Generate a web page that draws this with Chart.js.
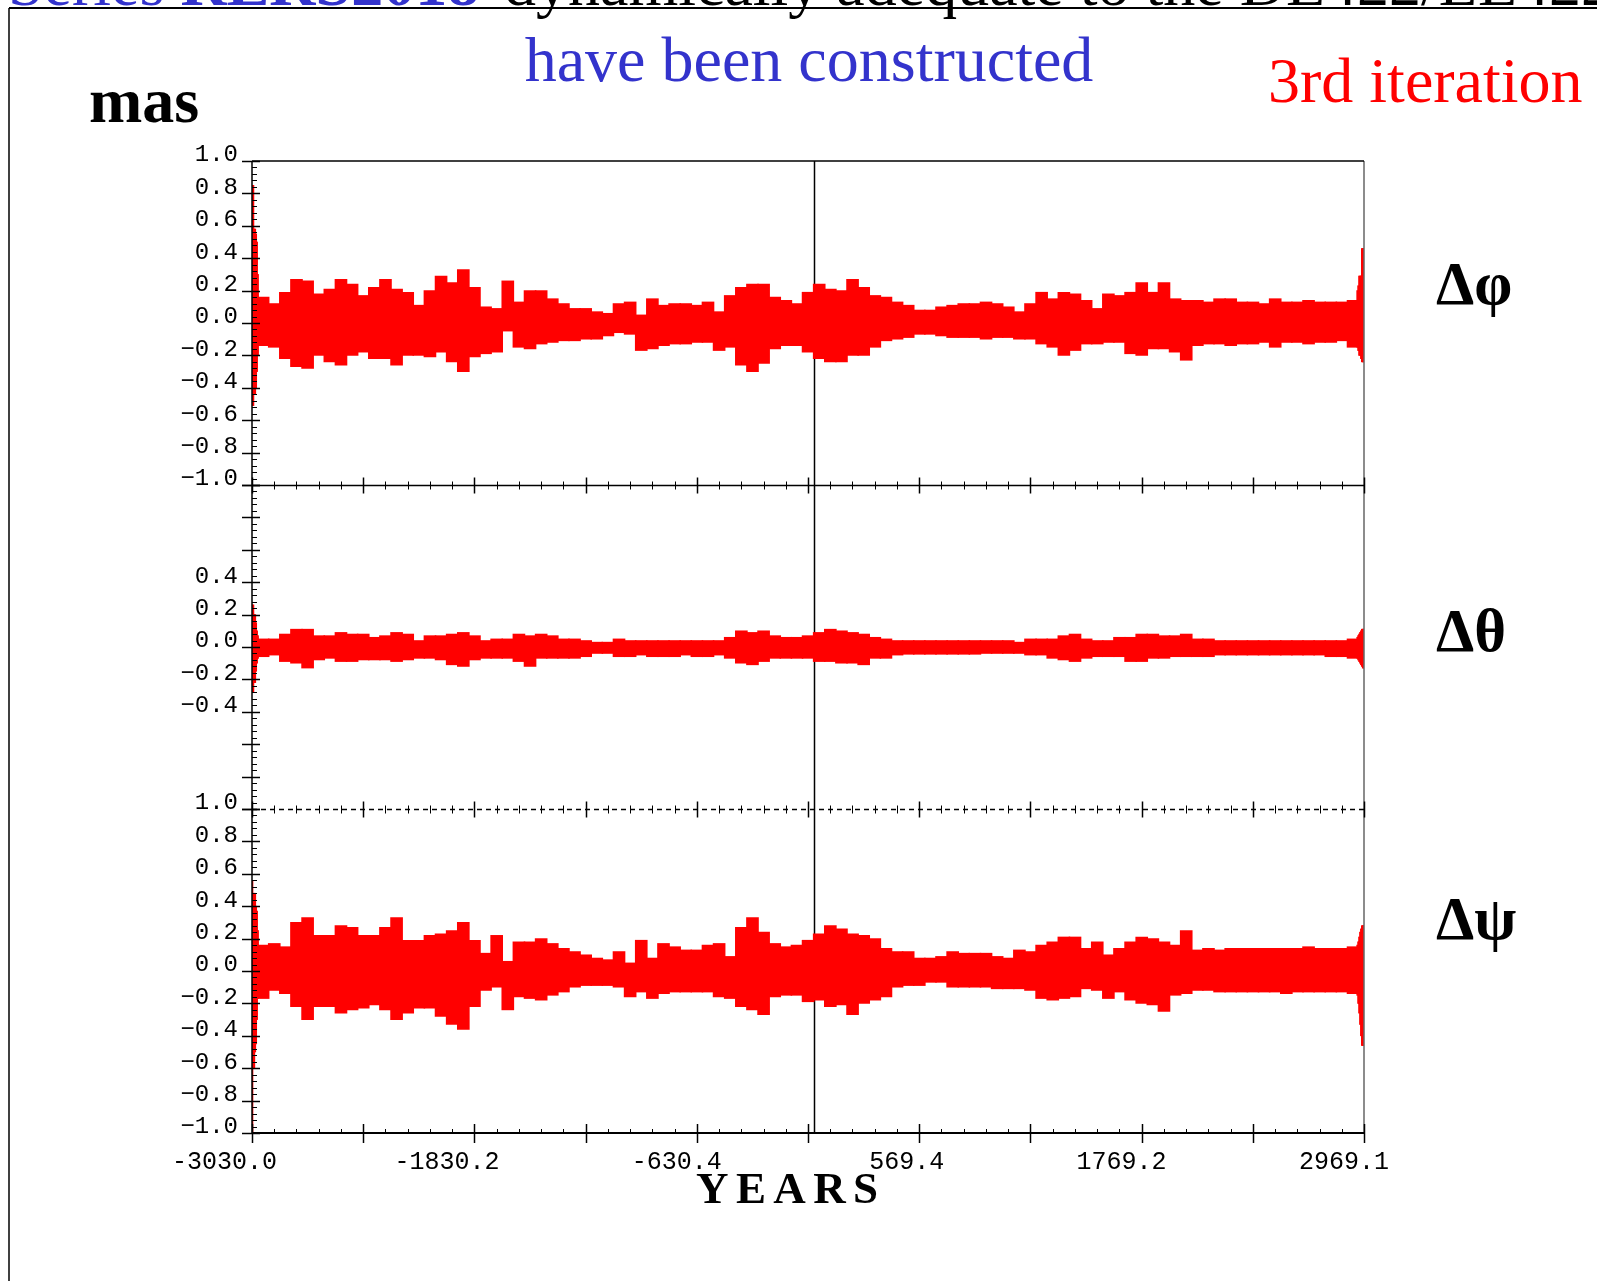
<!DOCTYPE html>
<html>
<head>
<meta charset="utf-8">
<script src="https://cdn.jsdelivr.net/npm/chart.js@4.4.0/dist/chart.umd.min.js"></script>
<style>
  html, body { margin: 0; padding: 0; background: #fff; }
  #wrap { position: relative; width: 1597px; height: 1281px; overflow: hidden; }
  #c, #labels { position: absolute; left: 0; top: 0; }
</style>
</head>
<body>
<div id="wrap">
  <canvas id="c" width="1597" height="1281"></canvas>
  <svg id="labels" width="1597" height="1281" xmlns="http://www.w3.org/2000/svg" font-family="Liberation Serif, Times New Roman, serif">
    <text y="5" font-size="64"><tspan x="8" fill="#3333cc">Series </tspan><tspan fill="#3333cc" font-weight="bold">RERS2018</tspan><tspan x="504" fill="#000">dynamically adequate to the DE422/LE422</tspan></text>
    <line x1="9" y1="8" x2="1597" y2="8" stroke="#000" stroke-width="2"/>
    <line x1="9" y1="8" x2="9" y2="1281" stroke="#000" stroke-width="1.5"/>
    <text x="809" y="81" font-size="64" fill="#3333cc" text-anchor="middle">have been constructed</text>
    <text x="1268" y="102" font-size="64" fill="#ff0000">3rd iteration</text>
    <text x="89" y="122" font-size="64" font-weight="bold" fill="#000">mas</text>
    <text x="1436" y="304" font-size="61" font-weight="bold" fill="#000">Δφ</text>
    <text x="1436" y="651" font-size="61" font-weight="bold" fill="#000">Δθ</text>
    <text x="1436" y="939" font-size="61" font-weight="bold" fill="#000">Δψ</text>
    <text x="696" y="1203" font-size="45" font-weight="bold" fill="#000" letter-spacing="7.4">YEARS</text>
  </svg>
</div>
<script>
// sample epochs (years), one band sample every 60 years
const YEARS = [-3030, -2970, -2910, -2850, -2790, -2730, -2670, -2610, -2550, -2490,
  -2430, -2370, -2310, -2250, -2190, -2130, -2070, -2010, -1950, -1890,
  -1830, -1770, -1710, -1650, -1590, -1530, -1470, -1410, -1350, -1290,
  -1230, -1170, -1110, -1050, -990, -930, -870, -810, -750, -690,
  -630, -570, -510, -450, -390, -330, -270, -210, -150, -90,
  -30, 30, 90, 150, 210, 270, 330, 390, 450, 510,
  570, 630, 690, 750, 810, 870, 930, 990, 1050, 1110,
  1170, 1230, 1290, 1350, 1410, 1470, 1530, 1590, 1650, 1710,
  1770, 1830, 1890, 1950, 2010, 2070, 2130, 2190, 2250, 2310,
  2370, 2430, 2490, 2550, 2610, 2670, 2730, 2790, 2850, 2910,
  2970];

// upper / lower envelope of the residuals (mas)
const PHI_HI = [0.19, 0.16, 0.12, 0.19, 0.27, 0.26, 0.18, 0.21, 0.27, 0.24,
  0.17, 0.22, 0.27, 0.21, 0.19, 0.11, 0.20, 0.29, 0.25, 0.33,
  0.22, 0.10, 0.09, 0.26, 0.13, 0.20, 0.20, 0.15, 0.12, 0.09,
  0.09, 0.07, 0.06, 0.12, 0.13, 0.05, 0.15, 0.11, 0.12, 0.12,
  0.11, 0.13, 0.07, 0.17, 0.22, 0.24, 0.24, 0.16, 0.14, 0.12,
  0.19, 0.24, 0.21, 0.20, 0.27, 0.22, 0.17, 0.16, 0.13, 0.11,
  0.08, 0.08, 0.10, 0.11, 0.12, 0.12, 0.13, 0.12, 0.10, 0.07,
  0.12, 0.19, 0.15, 0.19, 0.18, 0.14, 0.09, 0.18, 0.17, 0.19,
  0.25, 0.19, 0.25, 0.15, 0.14, 0.14, 0.13, 0.15, 0.15, 0.13,
  0.13, 0.12, 0.15, 0.13, 0.13, 0.14, 0.13, 0.13, 0.13, 0.14,
  0.20];
const PHI_LO = [-0.18, -0.14, -0.15, -0.22, -0.27, -0.28, -0.20, -0.24, -0.26, -0.20,
  -0.18, -0.22, -0.22, -0.26, -0.20, -0.20, -0.21, -0.18, -0.24, -0.30,
  -0.21, -0.19, -0.18, -0.05, -0.15, -0.16, -0.13, -0.12, -0.11, -0.11,
  -0.10, -0.10, -0.08, -0.06, -0.07, -0.17, -0.16, -0.14, -0.13, -0.13,
  -0.12, -0.12, -0.17, -0.15, -0.26, -0.30, -0.25, -0.16, -0.14, -0.14,
  -0.18, -0.22, -0.24, -0.24, -0.20, -0.20, -0.15, -0.11, -0.10, -0.09,
  -0.07, -0.07, -0.08, -0.09, -0.09, -0.09, -0.10, -0.09, -0.09, -0.10,
  -0.10, -0.13, -0.15, -0.20, -0.17, -0.13, -0.13, -0.12, -0.12, -0.19,
  -0.20, -0.16, -0.16, -0.18, -0.23, -0.14, -0.13, -0.13, -0.14, -0.13,
  -0.13, -0.12, -0.15, -0.12, -0.12, -0.13, -0.12, -0.12, -0.11, -0.15,
  -0.17];

const THETA_HI = [0.06, 0.05, 0.05, 0.08, 0.11, 0.11, 0.07, 0.07, 0.09, 0.08,
  0.08, 0.06, 0.07, 0.09, 0.08, 0.04, 0.07, 0.07, 0.08, 0.09,
  0.07, 0.04, 0.05, 0.05, 0.08, 0.07, 0.08, 0.07, 0.05, 0.05,
  0.04, 0.03, 0.03, 0.05, 0.04, 0.04, 0.04, 0.04, 0.04, 0.04,
  0.04, 0.04, 0.04, 0.06, 0.10, 0.09, 0.10, 0.07, 0.06, 0.06,
  0.07, 0.09, 0.11, 0.10, 0.09, 0.08, 0.06, 0.05, 0.04, 0.04,
  0.04, 0.04, 0.04, 0.04, 0.04, 0.04, 0.04, 0.04, 0.04, 0.03,
  0.05, 0.05, 0.05, 0.07, 0.08, 0.05, 0.04, 0.04, 0.06, 0.06,
  0.08, 0.08, 0.07, 0.07, 0.08, 0.05, 0.05, 0.04, 0.04, 0.04,
  0.04, 0.04, 0.04, 0.04, 0.04, 0.04, 0.04, 0.04, 0.04, 0.05,
  0.07];
const THETA_LO = [-0.07, -0.06, -0.05, -0.09, -0.10, -0.13, -0.08, -0.07, -0.09, -0.09,
  -0.08, -0.08, -0.08, -0.09, -0.08, -0.07, -0.07, -0.08, -0.11, -0.12,
  -0.08, -0.07, -0.07, -0.07, -0.09, -0.12, -0.07, -0.07, -0.07, -0.07,
  -0.06, -0.04, -0.04, -0.06, -0.06, -0.05, -0.06, -0.06, -0.06, -0.05,
  -0.06, -0.06, -0.05, -0.07, -0.10, -0.11, -0.09, -0.07, -0.07, -0.07,
  -0.07, -0.09, -0.09, -0.10, -0.10, -0.11, -0.07, -0.07, -0.05, -0.045,
  -0.045, -0.045, -0.045, -0.045, -0.045, -0.045, -0.04, -0.04, -0.04, -0.04,
  -0.05, -0.05, -0.07, -0.08, -0.09, -0.07, -0.06, -0.06, -0.06, -0.09,
  -0.09, -0.07, -0.07, -0.06, -0.06, -0.06, -0.06, -0.05, -0.05, -0.05,
  -0.05, -0.05, -0.05, -0.05, -0.05, -0.05, -0.05, -0.06, -0.06, -0.07,
  -0.08];

const PSI_HI = [0.20, 0.16, 0.17, 0.15, 0.30, 0.33, 0.22, 0.22, 0.28, 0.27,
  0.22, 0.22, 0.27, 0.33, 0.19, 0.19, 0.22, 0.23, 0.25, 0.30,
  0.19, 0.11, 0.22, 0.06, 0.18, 0.18, 0.20, 0.17, 0.14, 0.12,
  0.10, 0.08, 0.07, 0.12, 0.05, 0.19, 0.08, 0.17, 0.15, 0.13,
  0.13, 0.16, 0.17, 0.09, 0.27, 0.33, 0.24, 0.17, 0.15, 0.16,
  0.19, 0.23, 0.28, 0.26, 0.23, 0.22, 0.20, 0.14, 0.12, 0.12,
  0.08, 0.08, 0.09, 0.12, 0.11, 0.11, 0.11, 0.09, 0.08, 0.13,
  0.12, 0.16, 0.18, 0.21, 0.21, 0.14, 0.18, 0.10, 0.14, 0.18,
  0.21, 0.20, 0.18, 0.16, 0.25, 0.13, 0.14, 0.13, 0.14, 0.14,
  0.14, 0.14, 0.14, 0.14, 0.14, 0.15, 0.14, 0.14, 0.14, 0.15,
  0.18];
const PSI_LO = [-0.17, -0.17, -0.12, -0.14, -0.22, -0.30, -0.22, -0.22, -0.26, -0.24,
  -0.23, -0.21, -0.24, -0.30, -0.26, -0.23, -0.23, -0.28, -0.33, -0.36,
  -0.22, -0.12, -0.10, -0.24, -0.16, -0.17, -0.18, -0.15, -0.13, -0.10,
  -0.09, -0.09, -0.09, -0.10, -0.16, -0.13, -0.17, -0.14, -0.13, -0.13,
  -0.13, -0.13, -0.16, -0.17, -0.22, -0.24, -0.27, -0.16, -0.15, -0.15,
  -0.19, -0.18, -0.22, -0.21, -0.27, -0.20, -0.18, -0.16, -0.10, -0.09,
  -0.09, -0.07, -0.07, -0.10, -0.10, -0.10, -0.10, -0.11, -0.11, -0.11,
  -0.12, -0.17, -0.18, -0.17, -0.16, -0.11, -0.12, -0.17, -0.13, -0.18,
  -0.20, -0.21, -0.25, -0.15, -0.14, -0.12, -0.12, -0.13, -0.13, -0.13,
  -0.13, -0.13, -0.13, -0.14, -0.13, -0.13, -0.13, -0.13, -0.13, -0.14,
  -0.20];

// spikes at both ends of the interval
const EDGE_L_YEARS = [-3030, -3025, -3020, -3015, -3010, -3005, -3000];
const PHI_EDGE_L_HI = [0.85, 0.85, 0.58, 0.58, 0.55, 0.50, 0.30];
const PHI_EDGE_L_LO = [-0.51, -0.51, -0.44, -0.44, -0.40, -0.30, -0.20];
const THETA_EDGE_L_HI = [0.26, 0.26, 0.20, 0.20, 0.15, 0.10, 0.07];
const THETA_EDGE_L_LO = [-0.28, -0.28, -0.22, -0.22, -0.15, -0.10, -0.07];
const PSI_EDGE_L_HI = [0.56, 0.48, 0.48, 0.48, 0.40, 0.37, 0.25];
const PSI_EDGE_L_LO = [-1.0, -0.60, -0.60, -0.50, -0.45, -0.30, -0.17];

const EDGE_R_YEARS = [2935, 2940, 2945, 2950, 2955, 2960, 2965, 2969];
const PHI_EDGE_R_HI = [0.20, 0.23, 0.29, 0.29, 0.29, 0.46, 0.46, 0.46];
const PHI_EDGE_R_LO = [-0.15, -0.17, -0.20, -0.20, -0.22, -0.24, -0.24, -0.24];
const THETA_EDGE_R_HI = [0.06, 0.07, 0.08, 0.09, 0.10, 0.11, 0.11, 0.11];
const THETA_EDGE_R_LO = [-0.07, -0.08, -0.09, -0.10, -0.11, -0.12, -0.13, -0.13];
const PSI_EDGE_R_HI = [0.16, 0.18, 0.21, 0.24, 0.26, 0.28, 0.28, 0.28];
const PSI_EDGE_R_LO = [-0.15, -0.20, -0.26, -0.33, -0.40, -0.46, -0.46, -0.46];

// axis ticks
const X_MIN = -3030.0;
const X_MAX = 2969.1;
const X_TICKS = [-3030.0, -1830.2, -630.4, 569.4, 1769.2, 2969.1];
const X_LABELS = ['-3030.0', '-1830.2', '-630.4', '569.4', '1769.2', '2969.1'];

const RED = '#ff0000';

const fmtY = (v) => (v < -1e-9 ? '\u2212' : '') + Math.abs(v).toFixed(1);

const band = (axis, years, hi, lo, thickness) => ({
  yAxisID: axis,
  data: years.map((x, i) => ({ x, y: [lo[i], hi[i]] })),
  backgroundColor: RED,
  borderWidth: 0,
  barThickness: thickness,
  grouped: false,
  clip: 0
});

const yScale = (weight, showLabel) => ({
  type: 'linear',
  position: 'left',
  stack: 'panels',
  stackWeight: 1,
  weight,
  min: -1,
  max: 1,
  grid: { display: false, drawTicks: false },
  border: { display: false },
  afterFit: (s) => { s.width = 252; },
  ticks: {
    stepSize: 0.2,
    autoSkip: false,
    padding: 14,
    labelOffset: -6,
    color: '#000',
    font: { family: 'Liberation Mono', size: 24 },
    callback: (v) => (showLabel(v) ? fmtY(v) : '')
  }
});

// frame, panel separators and tick marks, placed with the chart's own scales
const frame = {
  id: 'frame',
  beforeDatasetsDraw(chart) {
    const { ctx, chartArea: a, scales } = chart;
    const x0 = Math.round(scales.x.getPixelForValue(0)) + 0.5;
    ctx.save();
    ctx.strokeStyle = '#000';
    ctx.lineWidth = 1.5;
    ctx.beginPath();
    ctx.moveTo(x0, a.top);
    ctx.lineTo(x0, a.bottom);
    ctx.stroke();
    ctx.restore();
  },
  afterDatasetsDraw(chart) {
    const { ctx, chartArea: a, scales } = chart;
    const xs = scales.x;
    const seg = (x1, y1, x2, y2) => { ctx.beginPath(); ctx.moveTo(x1, y1); ctx.lineTo(x2, y2); ctx.stroke(); };
    ctx.save();

    // right border
    ctx.strokeStyle = '#666';
    ctx.lineWidth = 1.5;
    seg(a.right, a.top, a.right, a.bottom);

    ctx.strokeStyle = '#000';
    ctx.lineWidth = 1.5;
    seg(a.left, a.top, a.right, a.top);
    seg(a.left, a.top, a.left, a.bottom);

    // y ticks for each panel
    ['y1', 'y2', 'y3'].forEach((id) => {
      const s = scales[id];
      for (let i = -25; i <= 25; i++) {
        const py = Math.round(s.getPixelForValue(i * 0.04)) + 0.5;
        if (i % 5 === 0) {
          ctx.lineWidth = 1.5;
          seg(a.left - 10, py, a.left + 8, py);
        } else {
          ctx.lineWidth = 1;
          seg(a.left, py, a.left + 5, py);
        }
      }
    });

    const step = (X_MAX - X_MIN) / 50;
    const sep1 = Math.round(scales.y1.getPixelForValue(-1)) + 0.5;
    const sep2 = Math.round(scales.y2.getPixelForValue(-1)) + 0.5;
    const base = Math.round(scales.y3.getPixelForValue(-1));

    // separators between panels
    ctx.lineWidth = 1.5;
    seg(a.left, sep1, a.right, sep1);
    ctx.setLineDash([5, 4]);
    seg(a.left, sep2, a.right, sep2);
    ctx.setLineDash([]);
    ctx.lineWidth = 2;
    seg(a.left, base, a.right, base);

    for (let i = 0; i <= 50; i++) {
      const px = Math.round(xs.getPixelForValue(X_MIN + i * step)) + 0.5;
      const major = i % 5 === 0;
      ctx.lineWidth = major ? 1.5 : 1;
      const h = major ? 8 : 4;
      seg(px, sep1 - h, px, sep1 + h);
      seg(px, sep2 - h, px, sep2 + h);
      if (major) seg(px, base - 9, px, base + 10);
      else seg(px, base - 4, px, base);
    }
    ctx.restore();
  }
};

new Chart(document.getElementById('c'), {
  type: 'bar',
  data: {
    datasets: [
      band('y1', YEARS, PHI_HI, PHI_LO, 12),
      band('y2', YEARS, THETA_HI, THETA_LO, 12),
      band('y3', YEARS, PSI_HI, PSI_LO, 12),
      band('y1', EDGE_L_YEARS, PHI_EDGE_L_HI, PHI_EDGE_L_LO, 2),
      band('y2', EDGE_L_YEARS, THETA_EDGE_L_HI, THETA_EDGE_L_LO, 2),
      band('y3', EDGE_L_YEARS, PSI_EDGE_L_HI, PSI_EDGE_L_LO, 2),
      band('y1', EDGE_R_YEARS, PHI_EDGE_R_HI, PHI_EDGE_R_LO, 2),
      band('y2', EDGE_R_YEARS, THETA_EDGE_R_HI, THETA_EDGE_R_LO, 2),
      band('y3', EDGE_R_YEARS, PSI_EDGE_R_HI, PSI_EDGE_R_LO, 2)
    ]
  },
  options: {
    responsive: false,
    animation: false,
    devicePixelRatio: 1,
    events: [],
    layout: { padding: { left: 0, top: 161, right: 233, bottom: 0 } },
    plugins: { legend: { display: false }, tooltip: { enabled: false } },
    scales: {
      x: {
        type: 'linear',
        min: X_MIN,
        max: X_MAX,
        offset: false,
        grid: { display: false, drawTicks: false },
        border: { display: false },
        afterBuildTicks: (s) => { s.ticks = X_TICKS.map((v) => ({ value: v })); },
        afterFit: (s) => { s.height = 148; },
        ticks: {
          autoSkip: false,
          maxRotation: 0,
          minRotation: 0,
          align: 'end',
          labelOffset: 25,
          padding: 14,
          color: '#000',
          font: { family: 'Liberation Mono', size: 25 },
          callback: (v, i) => X_LABELS[i]
        }
      },
      y1: yScale(3, () => true),
      y2: yScale(2, (v) => Math.abs(v) < 0.41),
      y3: yScale(1, () => true)
    }
  },
  plugins: [frame]
});
</script>
</body>
</html>
